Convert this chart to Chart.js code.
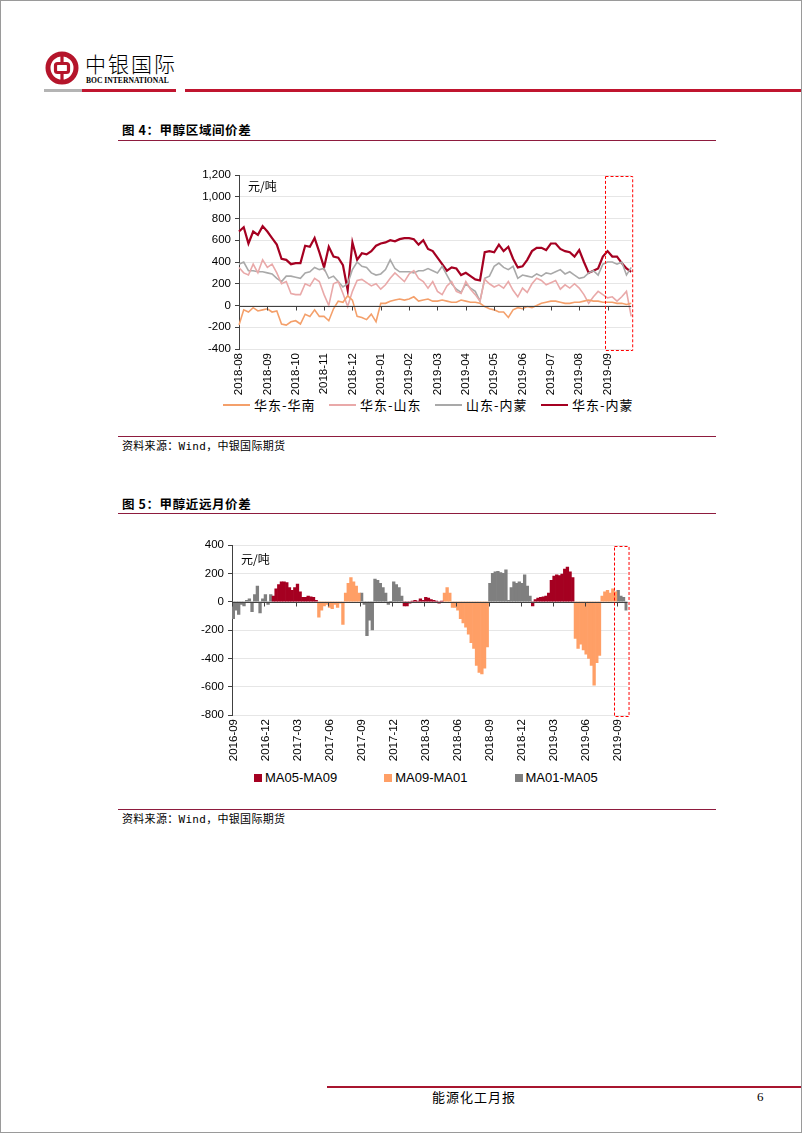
<!DOCTYPE html>
<html>
<head>
<meta charset="utf-8">
<script src="https://cdn.jsdelivr.net/npm/chart.js@4.4.1/dist/chart.umd.min.js"></script>
<style>
  body { margin: 0; background: #fff; }
  #page { position: relative; width: 800px; height: 1131px; border: 1px solid #9a9a9a; overflow: hidden;
          font-family: "Noto Sans CJK SC", sans-serif; color: #000; }
  .abs { position: absolute; }
  .rule { position: absolute; left: 117px; width: 598px; height: 1px; background: #8e1b3e; }
  .title { position: absolute; left: 121px; font-size: 12.5px; font-weight: bold; line-height: 16px; letter-spacing: 0.6px; }
  .src { position: absolute; left: 121px; font-size: 11px; line-height: 14px; font-family: "DejaVu Sans Mono", "Noto Sans CJK SC", monospace; letter-spacing: 0.3px; }
  .legend { position: absolute; display: flex; align-items: center; white-space: nowrap; }
  .legend .item { display: flex; align-items: center; }
</style>
</head>
<body>
<div id="page">
  <!-- header -->
  <svg class="abs" style="left:42px;top:48px" width="38" height="38" viewBox="0 0 38 38">
    <circle cx="19" cy="19" r="14" fill="none" stroke="#b5152b" stroke-width="5"/>
    <rect x="12.5" y="14.5" width="13" height="9" rx="2" fill="none" stroke="#b5152b" stroke-width="3.2"/>
    <line x1="19" y1="4" x2="19" y2="14.5" stroke="#b5152b" stroke-width="3.2"/>
    <line x1="19" y1="23.5" x2="19" y2="34" stroke="#b5152b" stroke-width="3.2"/>
  </svg>
  <div class="abs" style="left:84px;top:49px;font-size:21px;line-height:26px;letter-spacing:2px;font-weight:300">中银国际</div>
  <div class="abs" style="left:85px;top:75px;font-size:7.6px;line-height:9px;font-weight:bold;font-family:'Liberation Serif',serif">BOC INTERNATIONAL</div>
  <div class="abs" style="left:43px;top:88px;width:38px;height:3px;background:#b4b4b4"></div>
  <div class="abs" style="left:81px;top:88px;width:94px;height:3px;background:#c0152f"></div>
  <div class="abs" style="left:184px;top:88px;width:620px;height:3px;background:#c0152f"></div>

  <!-- figure 4 -->
  <div class="title" style="top:121px">图 4：甲醇区域间价差</div>
  <div class="rule" style="top:139px"></div>
  <div class="abs" style="left:197px;top:163px;width:451px;height:231px"><canvas id="chart1"></canvas></div>
  <div class="legend" id="legend1" style="left:222px;top:396px"></div>
  <div class="rule" style="top:435px"></div>
  <div class="src" style="top:439px">资料来源：Wind，中银国际期货</div>

  <!-- figure 5 -->
  <div class="title" style="top:495px">图 5：甲醇近远月价差</div>
  <div class="rule" style="top:512px"></div>
  <div class="abs" style="left:190px;top:533px;width:453px;height:227px"><canvas id="chart2"></canvas></div>
  <div class="legend" id="legend2" style="left:253px;top:769px"></div>
  <div class="rule" style="top:808px"></div>
  <div class="src" style="top:812px">资料来源：Wind，中银国际期货</div>

  <!-- footer -->
  <div class="abs" style="left:326px;top:1085px;width:480px;height:1.5px;background:#a8152f"></div>
  <div class="abs" style="left:431px;top:1087px;font-size:13px;line-height:18px;letter-spacing:1px">能源化工月报</div>
  <div class="abs" style="left:756px;top:1087px;font-size:13px;line-height:18px;font-family:'Liberation Serif',serif">6</div>
</div>

<script>
// ---------- figure 4: regional spreads (6 points per month) ----------
const months1 = ['2018-08', '2018-09', '2018-10', '2018-11', '2018-12', '2019-01', '2019-02',
                 '2019-03', '2019-04', '2019-05', '2019-06', '2019-07', '2019-08', '2019-09'];
const perMonth1 = 6;
const series1 = ['华东-华南', '华东-山东', '山东-内蒙', '华东-内蒙'];

const eastSouth = [-180, -40, -60, -20, -50, -40, -30, -60, -50, -170,
  -180, -150, -140, -170, -80, -100, -40, -100, -100, -140,
  -30, 40, 30, 90, 50, -100, -110, -130, -80, -150,
  20, 20, 40, 50, 60, 50, 60, 80, 40, 50,
  60, 40, 40, 50, 40, 30, 30, 50, 40, 30,
  30, 20, -10, -30, -40, -60, -60, -110, -40, -20,
  -30, -10, -20, 0, 20, 30, 40, 40, 30, 20,
  20, 30, 30, 40, 50, 40, 40, 30, 30, 30,
  20, 20, 10, 20];
const eastShandong = [350, 300, 280, 380, 300, 420, 350, 380, 300, 200,
  220, 110, 100, 100, 200, 180, 250, 220, 100, 0,
  200, 220, 110, -10, 130, 230, 240, 210, 180, 200,
  150, 190, 250, 300, 260, 220, 290, 320, 250, 220,
  160, 220, 130, 100, 180, 220, 130, 110, 220, 150,
  100, 40, 240, 200, 170, 190, 160, 220, 140, 80,
  160, 120, 200, 250, 230, 190, 210, 230, 150, 190,
  160, 200, 160, 100, 20, 80, 130, 100, 70, 80,
  40, 80, 130, -100];
const shandongMongolia = [380, 400, 320, 320, 310, 310, 300, 290, 250, 220,
  270, 270, 260, 250, 300, 310, 350, 330, 340, 250,
  270, 220, 170, 200, 330, 400, 360, 350, 300, 280,
  290, 330, 420, 340, 310, 310, 310, 300, 320, 320,
  340, 320, 300, 360, 280, 200, 150, 120, 200, 160,
  130, 40, 250, 270, 360, 390, 350, 330, 360, 250,
  280, 270, 260, 290, 270, 300, 290, 310, 330, 290,
  310, 280, 250, 260, 300, 320, 280, 380, 400, 400,
  380, 400, 280, 350];
const eastMongolia = [680, 720, 570, 680, 650, 730, 680, 620, 560, 430,
  420, 380, 390, 390, 550, 540, 620, 490, 350, 540,
  450, 440, 370, 140, 580, 420, 480, 470, 500, 550,
  570, 580, 600, 590, 610, 620, 620, 610, 560, 600,
  520, 500, 440, 380, 320, 350, 340, 280, 300, 270,
  240, 230, 490, 500, 490, 560, 500, 540, 430, 350,
  360, 420, 500, 530, 530, 510, 570, 570, 520, 500,
  490, 450, 510, 400, 300, 320, 340, 450, 500, 450,
  450, 390, 340, 310];
const colors1 = ['#f4a06b', '#e9a9a9', '#a9a9a9', '#a50021'];
const widths1 = [1.6, 1.6, 1.6, 2.2];

// ---------- figure 5: calendar spreads (4 points per month) ----------
const quarters2 = ['2016-09', '2016-12', '2017-03', '2017-06', '2017-09', '2017-12', '2018-03',
                   '2018-06', '2018-09', '2018-12', '2019-03', '2019-06', '2019-09'];
const monthCount2 = 37;
const perMonth2 = 4;
const series2 = ['MA05-MA09', 'MA09-MA01', 'MA01-MA05'];
const colors2 = ['#a50021', '#ff9f66', '#7f7f7f'];
// which contract pair is the main spread: [series index, number of points]
const runs2 = [[2, 15], [0, 17], [1, 16], [2, 16], [0, 15], [1, 17], [2, 16], [0, 16], [1, 16], [2, 4]];
const spread2 = [-120, -60, -90, -20, -30, 10, 20, -70, 50, 110, -80, 20, 50, -20, 50,
  40, 90, 120, 140, 140, 135, 100, 80, 100, 125, 70, 30, 30, 40, 35, 30, 10,
  -110, -60, -30, -20, -40, -50, -20, -40, -10, -160, 60, 130, 170, 140, 110, 60,
  60, -20, -240, -130, -200, 160, 150, 130, 100, 60, -20, 0, 140, 120, 100, 40,
  -30, -30, -10, 5, 10, 5, 20, 10, 30, 25, 15, 10, 5, -10, 5,
  60, 100, 60, -40, -40, -60, -120, -150, -180, -230, -290, -330, -450, -500, -510, -470, -320,
  130, 200, 210, 215, 205, 200, 225, 10, 100, 140, 130, 140, 130, 190, 110, 40,
  -30, 15, 25, 30, 35, 40, 60, 150, 180, 190, 185, 195, 230, 245, 210, 170,
  -260, -330, -300, -340, -370, -400, -450, -590, -430, -380, 40, 70, 80, 60, 90, 70,
  80, 40, 30, -60];

Chart.defaults.font.family = '"Liberation Sans", Arial, sans-serif';
Chart.defaults.font.size = 11;
Chart.defaults.color = '#000';

// zero axis with ticks, unit text and dashed highlight box
function decor(tickEvery, boxFrom, unitDy) {
  return {
    id: 'decor',
    afterDatasetsDraw(chart) {
      const { ctx, chartArea, scales: { x, y } } = chart;
      const step = x.getPixelForValue(1) - x.getPixelForValue(0);
      const shift = chart.config.type === 'bar' ? step / 2 : 0;
      const y0 = Math.round(y.getPixelForValue(0)) + 0.5;
      ctx.save();
      ctx.strokeStyle = '#404040';
      ctx.lineWidth = 1;
      ctx.beginPath();
      ctx.moveTo(chartArea.left, y0);
      ctx.lineTo(chartArea.right, y0);
      for (let i = 0; i < x.getLabels().length; i += tickEvery) {
        const px = Math.round(x.getPixelForValue(i) - shift) + 0.5;
        ctx.moveTo(px, y0);
        ctx.lineTo(px, y0 + 4);
      }
      ctx.stroke();

      ctx.fillStyle = '#000';
      ctx.font = '12px "Noto Sans CJK SC"';
      ctx.textBaseline = 'middle';
      ctx.fillText('元/吨', chartArea.left + 9, chartArea.top + unitDy);

      const bx = Math.round(x.getPixelForValue(boxFrom) - shift) - 2.5;
      ctx.strokeStyle = '#ff0000';
      ctx.setLineDash([3, 2]);
      ctx.strokeRect(bx, chartArea.top + 1.5, chartArea.right + 1.5 - bx, chartArea.bottom - chartArea.top);
      ctx.restore();
    }
  };
}

function yAxis(min, max, grouping) {
  return {
    min: min, max: max,
    ticks: { stepSize: 200, padding: 4, font: { size: 11.5 },
      callback: v => grouping ? v.toLocaleString('en-US') : String(v) },
    grid: { color: '#e6e6e6', tickColor: '#404040', tickLength: 4 },
    border: { color: '#404040' },
    afterFit(scale) { scale.width = 41; }
  };
}

function xAxis() {
  return {
    grid: { display: false, drawTicks: false },
    border: { display: false },
    ticks: { autoSkip: false, minRotation: 90, maxRotation: 90, padding: 4, font: { size: 11.5 } },
    afterFit(scale) { scale.height = 46; }
  };
}

// figure 4
const labels1 = [];
months1.forEach(m => { for (let j = 0; j < perMonth1; j++) labels1.push(j === 0 ? m : ''); });
const data1 = [eastSouth, eastShandong, shandongMongolia, eastMongolia];

const chart1 = new Chart(document.getElementById('chart1'), {
  type: 'line',
  data: {
    labels: labels1,
    datasets: series1.map((name, i) => ({
      label: name,
      data: data1[i],
      borderColor: colors1[i],
      backgroundColor: colors1[i],
      borderWidth: widths1[i],
      pointRadius: 0,
      tension: 0
    }))
  },
  options: {
    responsive: true,
    maintainAspectRatio: false,
    animation: false,
    layout: { padding: { top: 11, right: 0, left: 0, bottom: 0 } },
    plugins: { legend: { display: false }, tooltip: { enabled: false } },
    scales: { x: xAxis(), y: yAxis(-400, 1200, true) }
  },
  plugins: [decor(perMonth1, (months1.length - 1) * perMonth1, 11)]
});

// figure 5
const labels2 = [];
for (let m = 0; m < monthCount2; m++) {
  for (let w = 0; w < perMonth2; w++) labels2.push(m % 3 === 0 && w === 0 ? quarters2[m / 3] : '');
}
const pairOf = [];
runs2.forEach(([s, n]) => { for (let j = 0; j < n; j++) pairOf.push(s); });

const chart2 = new Chart(document.getElementById('chart2'), {
  type: 'bar',
  data: {
    labels: labels2,
    datasets: series2.map((name, s) => ({
      label: name,
      data: spread2.map((v, k) => (pairOf[k] === s ? v : null)),
      backgroundColor: colors2[s],
      borderColor: colors2[s],
      borderWidth: 0,
      grouped: false,
      barPercentage: 1,
      categoryPercentage: 1
    }))
  },
  options: {
    responsive: true,
    maintainAspectRatio: false,
    animation: false,
    layout: { padding: { top: 11, right: 0, left: 0, bottom: 0 } },
    plugins: { legend: { display: false }, tooltip: { enabled: false } },
    scales: { x: xAxis(), y: yAxis(-800, 400, false) }
  },
  plugins: [decor(perMonth2 * 3, (quarters2.length - 1) * 3 * perMonth2, 14)]
});

// html legends built from the chart datasets
function buildLegend(chart, el, kind) {
  chart.data.datasets.forEach(ds => {
    const item = document.createElement('div');
    item.className = 'item';
    const sw = document.createElement('span');
    const txt = document.createElement('span');
    txt.textContent = ds.label;
    if (kind === 'line') {
      item.style.width = '106px';
      sw.style.cssText = 'display:inline-block;width:27px;margin-right:4px;height:' + ds.borderWidth + 'px;background:' + ds.borderColor;
      txt.style.cssText = 'font-size:13px;line-height:16px;letter-spacing:1px';
    } else {
      item.style.marginRight = '47px';
      sw.style.cssText = 'display:inline-block;width:8px;height:8px;margin-right:3px;background:' + ds.backgroundColor;
      txt.style.cssText = 'font-size:13px;line-height:16px;font-family:"Liberation Sans",Arial,sans-serif';
    }
    item.appendChild(sw);
    item.appendChild(txt);
    el.appendChild(item);
  });
}
buildLegend(chart1, document.getElementById('legend1'), 'line');
buildLegend(chart2, document.getElementById('legend2'), 'box');
</script>
</body>
</html>
